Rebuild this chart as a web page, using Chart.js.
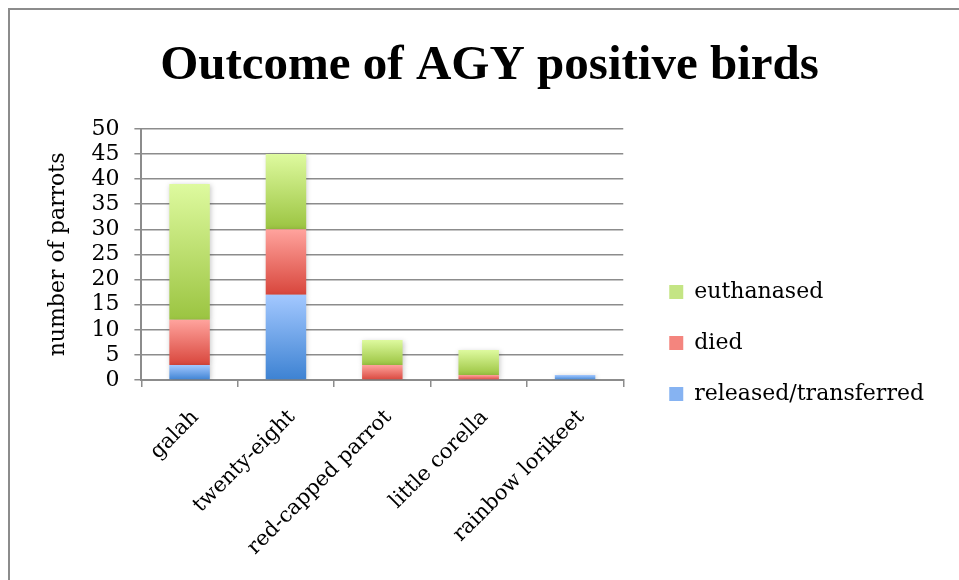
<!DOCTYPE html>
<html>
<head>
<meta charset="utf-8">
<script src="https://cdn.jsdelivr.net/npm/chart.js@4/dist/chart.umd.min.js"></script>
<style>
  html, body { margin: 0; padding: 0; background: #fff; overflow: hidden; }
  #frame { position: absolute; left: 8px; top: 8px; width: 1100px; height: 700px; border: 2px solid #8c8c8c; }
  #wrap { position: absolute; left: 0; top: 0; width: 959px; height: 580px; }
</style>
</head>
<body>
<div id="frame"></div>
<div id="wrap"><canvas id="chart"></canvas></div>
<script>
const categories = ['galah', 'twenty-eight', 'red-capped parrot', 'little corella', 'rainbow lorikeet'];
const released = [3, 17, 0, 0, 1];
const died = [9, 13, 3, 1, 0];
const euthanased = [27, 15, 5, 5, 0];
const yTicks = [0, 5, 10, 15, 20, 25, 30, 35, 40, 45, 50];

const FONT = 'DejaVu Serif';
const GRID = '#8c8c8c';

// light top -> dark bottom, plus a flat colour for the legend swatch
const palettes = {
    released: ['#a3c8ff', '#3d82d2', '#86b3f2'],
    died: ['#ffa39d', '#d8463c', '#f4857e'],
    euthanased: ['#defa9f', '#9bc441', '#c4e584']
};
const seriesKeys = ['released', 'died', 'euthanased'];

function segmentFill(name) {
    return (c) => {
        const [light, dark, swatch] = palettes[name];
        const chart = c.chart;
        if (c.type !== 'data' || !chart.chartArea) return swatch;
        const i = c.dataIndex;
        let start = 0;
        for (let d = 0; d < c.datasetIndex; d++) start += chart.data.datasets[d].data[i];
        const end = start + chart.data.datasets[c.datasetIndex].data[i];
        const y = chart.scales.y;
        const top = y.getPixelForValue(end);
        const bottom = y.getPixelForValue(start);
        if (bottom - top < 1) return light;
        const g = chart.ctx.createLinearGradient(0, top, 0, bottom);
        g.addColorStop(0, light);
        g.addColorStop(1, dark);
        return g;
    };
}

// the legend text is wider than chart.js lets a side box be, so lift that cap
const wideLegend = {
    id: 'wideLegend',
    beforeLayout(chart) {
        const lg = chart.legend;
        if (lg && !lg._wide) {
            const update = lg.update.bind(lg);
            lg.update = (w, h, m) => update(Math.max(w, 360), h, m);
            lg._wide = true;
        }
    }
};

// soft drop shadow under the bars
const barShadow = {
    id: 'barShadow',
    beforeDatasetsDraw(chart) {
        const c = chart.ctx;
        c.save();
        c.shadowColor = 'rgba(0,0,0,0.22)';
        c.shadowBlur = 5;
        c.shadowOffsetX = 1;
        c.shadowOffsetY = 1;
    },
    afterDatasetsDraw(chart) {
        chart.ctx.restore();
    }
};

const ctx = document.getElementById('chart').getContext('2d');
const chart = new Chart(ctx, {
    type: 'bar',
    plugins: [wideLegend, barShadow],
    data: {
        labels: categories,
        datasets: [
            { label: 'released/transferred', data: released, backgroundColor: segmentFill('released') },
            { label: 'died', data: died, backgroundColor: segmentFill('died') },
            { label: 'euthanased', data: euthanased, backgroundColor: segmentFill('euthanased') }
        ]
    },
    options: {
        responsive: true,
        maintainAspectRatio: false,
        animation: false,
        layout: { padding: { left: 45, right: 25, top: 0, bottom: 2 } },
        datasets: { bar: { categoryPercentage: 1, barPercentage: 0.42 } },
        plugins: {
            title: {
                display: true,
                text: 'Outcome of AGY positive birds',
                color: '#000',
                font: { family: 'Liberation Serif', size: 49, weight: 'bold' },
                padding: { top: 37, bottom: 33 }
            },
            legend: {
                position: 'right',
                reverse: true,
                title: { display: true, text: ' ', font: { size: 4 }, padding: { top: 103, bottom: 0 } },
                labels: {
                    color: '#000',
                    font: { family: FONT, size: 22 },
                    boxWidth: 14,
                    boxHeight: 14,
                    padding: 29,
                    generateLabels: (chart) => Chart.defaults.plugins.legend.labels.generateLabels(chart)
                        .map(item => ({ ...item, fillStyle: palettes[seriesKeys[item.datasetIndex]][2], strokeStyle: 'transparent', lineWidth: 0 }))
                }
            },
            tooltip: { enabled: false }
        },
        scales: {
            x: {
                stacked: true,
                grid: { display: true, drawOnChartArea: false, drawTicks: true, tickLength: 7, color: GRID, lineWidth: 1.5 },
                border: { display: true, color: GRID, width: 2 },
                ticks: {
                    color: '#000',
                    font: { family: FONT, size: 21 },
                    maxRotation: 45,
                    minRotation: 45,
                    padding: 18,
                    labelOffset: 6
                }
            },
            y: {
                stacked: true,
                min: 0,
                max: 50,
                afterBuildTicks: (axis) => { axis.ticks = yTicks.map(v => ({ value: v })); },
                grid: { color: GRID, lineWidth: 1.5, tickLength: 7 },
                border: { display: true, color: GRID, width: 2 },
                ticks: { color: '#000', font: { family: FONT, size: 22 }, padding: 15, autoSkip: false },
                title: {
                    display: true,
                    text: 'number of parrots',
                    color: '#000',
                    font: { family: FONT, size: 22 },
                    padding: { top: 0, bottom: 5 }
                }
            },
            // empty spacer between the plot and the legend
            gap: {
                type: 'linear',
                position: 'right',
                display: true,
                grid: { display: false },
                border: { display: false },
                ticks: { display: false },
                afterFit: (axis) => { axis.width = 17; }
            }
        }
    }
});
</script>
</body>
</html>
